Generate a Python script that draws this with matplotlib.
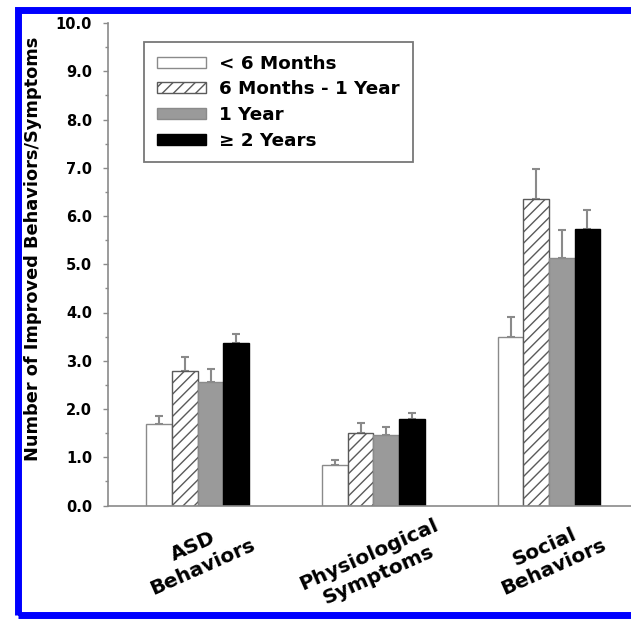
import matplotlib
matplotlib.use("Agg")
import matplotlib.pyplot as plt
from matplotlib.patches import Rectangle
from matplotlib.ticker import MultipleLocator, FormatStrFormatter
import numpy as np

categories = ["ASD\nBehaviors", "Physiological\nSymptoms", "Social\nBehaviors"]
series = ["< 6 Months", "6 Months - 1 Year", "1 Year", "\u2265 2 Years"]

# mean number of improved items and the (upper) error bar
less_6m = [1.68, 0.84, 3.49]
less_6m_err = [0.18, 0.10, 0.42]
m6_to_1y = [2.79, 1.50, 6.35]
m6_to_1y_err = [0.29, 0.20, 0.62]
one_year = [2.55, 1.46, 5.13]
one_year_err = [0.28, 0.17, 0.57]
two_plus = [3.36, 1.80, 5.74]
two_plus_err = [0.20, 0.11, 0.39]

means = [less_6m, m6_to_1y, one_year, two_plus]
errs = [less_6m_err, m6_to_1y_err, one_year_err, two_plus_err]

STYLE = [
    dict(color="white", edgecolor="#8a8a8a", hatch=None),
    dict(color="white", edgecolor="#5a5a5a", hatch="///"),
    dict(color="#9a9a9a", edgecolor="#8a8a8a", hatch=None),
    dict(color="black", edgecolor="black", hatch=None),
]

plt.rcParams["font.family"] = ["DejaVu Sans"]
plt.rcParams["font.weight"] = "bold"
plt.rcParams["hatch.linewidth"] = 1.0

W, H = 631, 619
fig = plt.figure(figsize=(W / 100, H / 100), dpi=100)
ax = fig.add_axes([108 / W, 113.5 / H, 523 / W, 482.5 / H])

x = np.arange(len(categories))
w = 0.146
for i, (m, e, st) in enumerate(zip(means, errs, STYLE)):
    pos = x + (i - 1.5) * w
    ax.bar(pos, m, width=w, color=st["color"], edgecolor=st["edgecolor"],
           hatch=st["hatch"], linewidth=1.0, label=series[i], zorder=2)
    ax.errorbar(pos, m, yerr=[np.zeros(len(e)), e], fmt="none",
                ecolor="#8a8a8a", elinewidth=1.5, capsize=3, capthick=1.5, zorder=1)

ax.set_xlim(-0.511, 2.467)
ax.set_ylim(0, 10)
ax.yaxis.set_major_locator(MultipleLocator(1))
ax.yaxis.set_minor_locator(MultipleLocator(0.5))
ax.yaxis.set_major_formatter(FormatStrFormatter("%.1f"))
ax.tick_params(axis="y", which="major", length=3.5, width=1, color="#8a8a8a",
               labelsize=10.5, pad=8)
ax.tick_params(axis="y", which="minor", length=2.5, width=1, color="#8a8a8a")
ax.set_xticks(x)
ax.set_xticklabels(categories, rotation=24, ha="center", fontsize=14.5,
                   multialignment="center")
ax.tick_params(axis="x", length=0, pad=7)

for s in ["top", "right"]:
    ax.spines[s].set_visible(False)
for s in ["left", "bottom"]:
    ax.spines[s].set_color("#8a8a8a")
    ax.spines[s].set_linewidth(1.2)

fig.text(33 / W, 1 - 249 / H, "Number of Improved Behaviors/Symptoms",
         rotation=90, ha="center", va="center", fontsize=12.8, fontweight="bold")

leg = ax.legend(loc="upper left", bbox_to_anchor=(144 / W, 1 - 41.7 / H),
                bbox_transform=fig.transFigure, borderaxespad=0,
                fontsize=13.2, handlelength=2.7, handleheight=0.55,
                handletextpad=0.7, labelspacing=0.42, borderpad=0.7,
                fancybox=False, framealpha=1)
leg.get_frame().set_edgecolor("#777777")
leg.get_frame().set_linewidth(1.3)

# blue frame around the figure (right side runs off the image)
fig.patches.append(Rectangle((18 / W, 1 - 614.5 / H), 1.0, (614.5 - 10) / H,
                             transform=fig.transFigure, fill=False,
                             edgecolor="#0000ff", linewidth=5.0))

fig.savefig("out.png", dpi=100)
